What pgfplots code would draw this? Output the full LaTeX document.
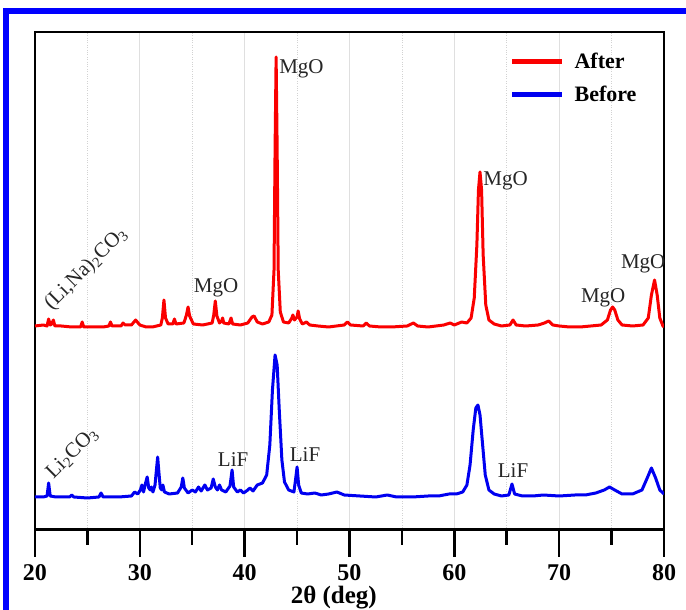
\documentclass[border=0pt]{standalone}
\usepackage{fontspec}
\setmainfont{Liberation Serif}
\usepackage{pgfplots}
\pgfplotsset{compat=1.18}
\definecolor{myred}{RGB}{250,0,0}
\definecolor{myblue}{RGB}{0,0,240}
\begin{document}
\begin{tikzpicture}
\path[use as bounding box] (-35pt,-80pt) rectangle (651pt,530pt);
\begin{axis}[
 scale only axis, width=629pt, height=498pt, at={(0pt,0pt)}, anchor=south west,
 xmin=20, xmax=80, ymin=0, ymax=498,
 xtick={20,30,...,80}, minor xtick={25,35,...,75},
 ytick=\empty,
 xtick pos=left, tick align=outside,
 major tick length=27pt, minor tick length=15pt,
 every tick/.style={black, line width=2.5pt},
 axis line style={line width=1.2pt},
 xmajorgrids, xminorgrids,
 major grid style={gray!25, line width=0.8pt},
 minor grid style={gray!35, dotted, line width=0.8pt},
 /pgf/number format/assume math mode=true,
 xticklabel style={font=\bfseries\fontsize{24}{28}\selectfont, yshift=-4pt},
 clip mode=individual,
 legend style={at={(rel axis cs:0.755,0.962)}, anchor=north west, draw=none, fill=none,
   font=\bfseries\fontsize{22}{26}\selectfont, row sep=12pt, inner sep=0pt,
   /tikz/every odd column/.style={column sep=8pt}},
 legend image code/.code={\draw[#1, line width=4.5pt] (0pt,0pt) -- (50pt,0pt);},
 legend cell align=left,
]
\addplot[myred, line width=3pt, line join=round] coordinates {
(20,204) (20.8,205) (21.15,204) (21.3,211) (21.45,205) (21.6,206) (21.75,210) (21.9,204) (22.5,204) (23.5,203) (24.35,203) (24.5,208) (24.65,203) (25.5,203) (26.5,203) (27.05,204) (27.2,208) (27.35,204) (28.2,204) (28.4,207) (28.6,205) (29.2,205) (29.6,210) (30.0,205) (30.6,203) (31.2,203) (32.0,205) (32.15,212) (32.3,230) (32.45,212) (32.7,206) (33.15,206) (33.3,211) (33.45,206) (34.2,207) (34.45,215) (34.6,223) (34.75,214) (35.1,206) (36.0,205) (36.9,207) (37.05,215) (37.2,229) (37.35,214) (37.6,207) (37.8,209) (37.9,212) (38.0,207) (38.5,206) (38.7,212) (38.85,206) (39.6,205) (40.3,207) (40.7,213) (40.9,214) (41.2,208) (41.7,206) (42.3,208) (42.6,215) (42.8,260) (42.9,380) (43.0,473) (43.1,380) (43.2,260) (43.4,218) (43.7,208) (44.2,207) (44.5,212) (44.6,215) (44.75,210) (45.0,213) (45.1,219) (45.25,211) (45.5,206) (45.9,208) (46.2,205) (47,204) (48,203) (49.5,205) (49.8,208) (50.1,205) (51.3,204) (51.6,207) (51.9,204) (53,203) (54,203) (55.5,204) (56.1,207) (56.5,204) (57.5,203) (59.0,205) (59.6,207) (60.0,205) (60.7,208) (61.2,207) (61.6,212) (61.9,232) (62.15,285) (62.3,340) (62.45,358) (62.6,340) (62.75,275) (63.0,225) (63.3,210) (63.8,206) (64.5,204) (65.3,205) (65.6,210) (65.9,205) (66.8,204) (68.0,205) (68.6,207) (69.0,209) (69.4,205) (70,204) (71,203) (72,203) (73,204) (74.0,205) (74.6,210) (74.9,220) (75.1,223) (75.3,220) (75.6,210) (76.0,205) (77,204) (78.0,205) (78.5,212) (78.8,235) (79.1,250) (79.35,235) (79.6,212) (79.9,204) (80,203)
};
\addlegendentry{After}
\addplot[myblue, line width=3pt, line join=round] coordinates {
(20,33) (20.8,33) (21.15,34) (21.3,47) (21.45,34) (22,33) (23.3,33) (23.5,35) (23.7,33) (25,32) (26.1,33) (26.3,37) (26.5,33) (28,33) (29.2,34) (29.5,38) (29.8,36) (30.05,40) (30.2,45) (30.35,38) (30.55,47) (30.7,53) (30.85,42) (31.0,40) (31.1,43) (31.25,38) (31.45,45) (31.6,62) (31.7,73) (31.8,60) (31.95,42) (32.1,40) (32.2,45) (32.35,38) (32.8,36) (33.6,37) (33.95,43) (34.1,52) (34.25,42) (34.6,37) (35.0,40) (35.3,38) (35.6,43) (35.85,39) (36.2,45) (36.45,40) (36.8,42) (37.0,51) (37.2,43) (37.4,40) (37.6,45) (37.8,40) (38.2,38) (38.6,44) (38.8,60) (38.95,43) (39.3,38) (39.6,40) (39.9,37) (40.3,40) (40.5,42) (40.8,39) (41.2,45) (41.7,47) (42.1,55) (42.4,85) (42.65,140) (42.9,175) (43.1,165) (43.3,120) (43.55,70) (43.8,48) (44.2,40) (44.7,38) (44.85,50) (45.0,63) (45.15,45) (45.4,37) (46.0,36) (46.7,37) (47.3,35) (48.0,36) (48.8,38) (49.5,35) (51,34) (52.5,33) (53.6,35) (54.5,33) (56,33) (57.5,34) (58.5,34) (59.5,36) (60.2,36) (60.8,38) (61.2,45) (61.5,65) (61.8,100) (62.05,122) (62.25,125) (62.45,115) (62.7,85) (62.95,55) (63.3,40) (63.8,36) (64.5,34) (65.2,35) (65.5,46) (65.75,36) (66.5,34) (67.5,34) (68.5,35) (70,34) (71.5,35) (72.5,35) (73.5,37) (74.3,40) (74.8,43) (75.3,40) (76,36) (77,36) (77.9,40) (78.4,52) (78.8,62) (79.2,52) (79.6,40) (80,36)
};
\addlegendentry{Before}
\draw[line width=3pt] (rel axis cs:0,0) -- (rel axis cs:1,0);
\begin{scope}[every node/.style={font=\fontsize{21}{25}\selectfont, inner sep=0pt, text=black!85}]
\node[anchor=west] at (axis cs:43.28,461) {MgO};
\node[anchor=west] at (axis cs:62.75,349) {MgO};
\node at (axis cs:37.27,242) {MgO};
\node at (axis cs:74.2,232) {MgO};
\node at (axis cs:78.02,266) {MgO};
\node at (axis cs:38.9,70) {LiF};
\node at (axis cs:45.76,75) {LiF};
\node at (axis cs:65.6,59) {LiF};
\node[anchor=south west, rotate=45] at (axis cs:21.9,216) {(Li,Na)\textsubscript{2}CO\textsubscript{3}};
\node[anchor=south west, rotate=45] at (axis cs:22.0,48) {Li\textsubscript{2}CO\textsubscript{3}};
\end{scope}
\node[font=\bfseries\fontsize{25}{30}\selectfont, inner sep=0pt] at (rel axis cs:0.475,0) [yshift=-68pt] {2θ (deg)};
\end{axis}
\draw[blue, line width=6pt] (-29pt,-100pt) -- (-29pt,519pt) -- (700pt,519pt);
\end{tikzpicture}
\end{document}
